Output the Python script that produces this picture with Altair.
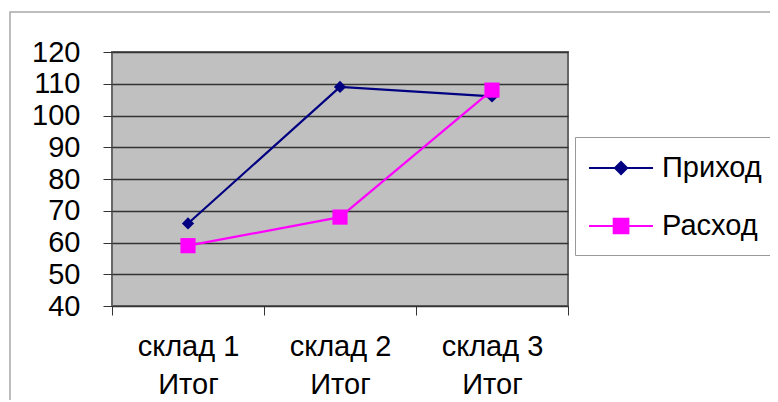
import altair as alt
import pandas as pd

categories = ["склад 1\nИтог", "склад 2\nИтог", "склад 3\nИтог"]
series = ["Приход", "Расход"]
prihod = [66, 109, 106]
rashod = [59, 68, 108]
y_ticks = [40, 50, 60, 70, 80, 90, 100, 110, 120]
colors = ["#000080", "#ff00ff"]
legend_paths = ["M-1.06,0H2.94M0.94,-0.38L1.32,0L0.94,0.38L0.56,0Z",
                "M-1.06,0H2.94M0.48,-0.46H1.40V0.46H0.48Z"]

rows = []
for c, v in zip(categories, prihod):
    rows.append({"cat": c, "series": series[0], "value": v})
for c, v in zip(categories, rashod):
    rows.append({"cat": c, "series": series[1], "value": v})
df = pd.DataFrame(rows)

FONT = "Liberation Sans"

legend = alt.Legend(
    orient="none", legendX=463, legendY=85,
    fillColor="white", strokeColor="#999999", padding=14,
    labelFont=FONT, labelFontSize=29, labelColor="black", labelOffset=39,
    symbolSize=1024, symbolStrokeWidth=2, rowPadding=26, symbolOpacity=1,
)

cscale = alt.Scale(domain=series, range=colors)
color = alt.Color("series:N", scale=cscale, legend=legend, title=None)

x = alt.X("cat:N", sort=categories, title=None,
          scale=alt.Scale(type="band", paddingInner=0, paddingOuter=0),
          axis=alt.Axis(tickBand="extent", labelExpr="split(datum.label, '\\n')",
                        labelFont=FONT, labelFontSize=29, labelColor="black",
                        labelLineHeight=38, labelPadding=17, tickSize=9,
                        tickColor="#333333", domain=False, labelAngle=0))
y = alt.Y("value:Q", title=None,
          scale=alt.Scale(domain=[40, 120], nice=False, zero=False),
          axis=alt.Axis(values=y_ticks, labelFont=FONT, labelFontSize=29, labelColor="black",
                        labelPadding=23, tickSize=9, tickColor="#333333", domain=False,
                        grid=True, gridColor="#333333", gridWidth=1.3))

frame = alt.Chart(alt.Data(values=[{"a": 1}])).mark_rect(
    fillOpacity=0, stroke="#a8a8a8", strokeWidth=1.5
).encode(x=alt.value(-102), x2=alt.value(700), y=alt.value(-40), y2=alt.value(420))

lines = alt.Chart(df).mark_line(strokeWidth=2.2).encode(x=x, y=y, color=color)

legend_layer = alt.Chart(df).transform_filter("false").mark_point(
    filled=True, opacity=1, strokeWidth=2, size=1024
).encode(
    x=x, y=y, color=color,
    stroke=alt.Stroke("series:N", scale=cscale, legend=legend, title=None),
    shape=alt.Shape("series:N", scale=alt.Scale(domain=series, range=legend_paths), legend=legend, title=None),
)

pts_a = alt.Chart(df).transform_filter(alt.datum.series == series[0]).mark_point(
    filled=True, opacity=1, shape="diamond", size=150
).encode(x=x, y=y, color=color)

pts_b = alt.Chart(df).transform_filter(alt.datum.series == series[1]).mark_point(
    filled=True, opacity=1, shape="square", size=230
).encode(x=x, y=y, color=color)

chart = alt.layer(frame, lines, legend_layer, pts_a, pts_b).properties(
    width=456, height=254,
    autosize="none",
    padding={"left": 104, "top": 44, "right": 202, "bottom": 94},
).configure(
    background="white"
).configure_view(
    fill="#c0c0c0", stroke="#666666", strokeWidth=2
)

chart.save("out.html", embed_options={"renderer": "svg", "actions": False})
